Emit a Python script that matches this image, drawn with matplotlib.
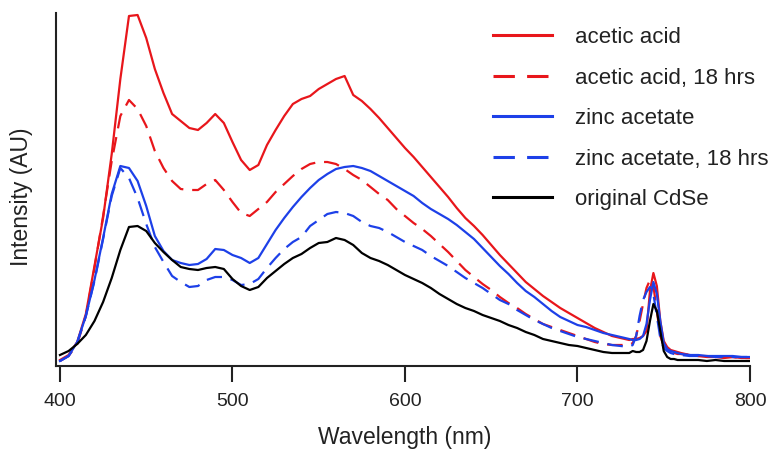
import matplotlib
matplotlib.use('Agg')
import matplotlib.pyplot as plt

plt.rcParams['font.family'] = ['Liberation Sans', 'DejaVu Sans']

# wavelength grid (nm): 5 nm steps, 2 nm around the 740 nm line
wl = list(range(400, 731, 5)) + list(range(732, 761, 2)) + list(range(765, 801, 5))

acetic = [6, 11, 24, 52, 100, 148, 212, 287, 350, 351,
          328, 297, 273, 252, 245, 238, 236, 243, 252, 243,
          224, 206, 196, 201, 221, 236, 250, 262, 267, 270,
          277, 282, 287, 290, 271, 265, 257, 248, 238, 228,
          218, 209, 199, 189, 179, 169, 158, 148, 140, 131,
          121, 111, 102, 93, 84, 77, 70, 64, 58, 53,
          48, 43, 38, 34, 30, 28, 26,
          27, 27, 28, 30, 35, 75, 93, 80, 45, 25, 19, 16, 15, 14, 13,
          11, 10, 9, 9, 8, 9, 8, 8]

acetic_18 = [5, 10, 22, 50, 98, 150, 205, 250, 266, 257,
             240, 215, 198, 185, 177, 176, 176, 182, 186, 176,
             164, 153, 150, 157, 164, 174, 182, 190, 197, 202,
             204, 204, 202, 197, 191, 186, 179, 172, 166, 157,
             150, 143, 137, 130, 122, 114, 105, 96, 89, 82,
             76, 69, 63, 58, 52, 47, 42, 39, 36, 33,
             30, 27, 24, 22, 21, 21, 21,
             23, 30, 45, 62, 78, 86, 80, 55, 30, 20, 16, 14, 13, 12, 12,
             11, 10, 10, 9, 9, 9, 8, 8]

zinc = [5, 10, 24, 50, 86, 128, 172, 200, 198, 185,
        160, 130, 115, 106, 103, 101, 102, 107, 117, 116,
        111, 108, 103, 108, 122, 136, 148, 159, 169, 178,
        186, 192, 197, 199, 200, 198, 195, 190, 185, 180,
        175, 170, 163, 157, 152, 147, 141, 134, 127, 118,
        109, 100, 92, 83, 75, 69, 62, 55, 49, 45,
        41, 39, 36, 33, 31, 29, 27,
        26, 26, 27, 30, 42, 66, 84, 72, 45, 23, 17, 15, 14, 13, 12,
        11, 11, 10, 10, 10, 10, 9, 9]

zinc_18 = [5, 10, 23, 50, 85, 127, 170, 198, 188, 168,
           142, 119, 104, 90, 84, 79, 80, 86, 89, 89,
           86, 81, 82, 87, 98, 108, 117, 124, 129, 140,
           146, 152, 154, 153, 150, 144, 140, 138, 134, 129,
           124, 120, 116, 110, 105, 100, 94, 88, 83, 78,
           72, 66, 62, 56, 51, 46, 42, 38, 35, 32,
           29, 27, 25, 23, 21, 20, 19,
           21, 30, 50, 66, 74, 79, 72, 50, 28, 18, 15, 13, 12, 12, 11,
           10, 10, 10, 9, 9, 9, 9, 9]

cdse = [11, 15, 22, 31, 45, 64, 88, 116, 139, 140,
        135, 123, 114, 106, 99, 97, 96, 98, 99, 97,
        87, 80, 76, 79, 88, 95, 102, 108, 112, 118,
        123, 124, 128, 126, 121, 113, 108, 105, 101, 96,
        91, 87, 83, 78, 72, 67, 62, 58, 55, 51,
        48, 45, 41, 38, 34, 31, 27, 25, 23, 21,
        20, 18, 16, 14, 13, 13, 13,
        15, 14, 14, 16, 25, 45, 62, 55, 35, 15, 9, 7, 7, 6, 6,
        6, 6, 5, 6, 5, 5, 5, 5]

red = '#e8161b'
blue = '#1d40e8'
ink = '#222222'
dash = (0, (7, 4))

fig = plt.figure(figsize=(7.76, 4.51), dpi=100)
ax = fig.add_axes([56/776, 1-366/451, 694/776, 353/451])

ax.plot(wl, acetic, color=red, lw=1.6, label='acetic acid')
ax.plot(wl, acetic_18, color=red, lw=1.6, ls=dash, label='acetic acid, 18 hrs')
ax.plot(wl, zinc, color=blue, lw=1.6, label='zinc acetate')
ax.plot(wl, zinc_18, color=blue, lw=1.6, ls=dash, label='zinc acetate, 18 hrs')
ax.plot(wl, cdse, color='black', lw=1.6, label='original CdSe')

ax.set_xlim(397.7, 800)
ax.set_ylim(0, 353)
ax.set_xticks([400, 500, 600, 700, 800])
ax.set_yticks([])
for s in ['top', 'right']:
    ax.spines[s].set_visible(False)
for s in ['left', 'bottom']:
    ax.spines[s].set_linewidth(1.5)
    ax.spines[s].set_color(ink)
ax.tick_params(axis='x', direction='out', length=11.5, width=1.5, color=ink,
               labelsize=14, pad=8, labelcolor=ink)

ax.set_xlabel('Wavelength (nm)', fontsize=16.5, color=ink)
ax.set_ylabel('Intensity (AU)', fontsize=16.5, color=ink)
ax.xaxis.set_label_coords(0.503, -0.17)
ax.yaxis.set_label_coords(-0.033, 0.479)

leg = ax.legend(loc='upper left', bbox_to_anchor=(493/776, 1-27/451),
                bbox_transform=fig.transFigure, frameon=False, fontsize=16,
                handlelength=2.66, handletextpad=1.04, labelspacing=0.88,
                borderpad=0, borderaxespad=0)
for t in leg.get_texts():
    t.set_color(ink)
for h in leg.get_lines():
    h.set_linewidth(2.2)

fig.savefig('out.png', dpi=100)
